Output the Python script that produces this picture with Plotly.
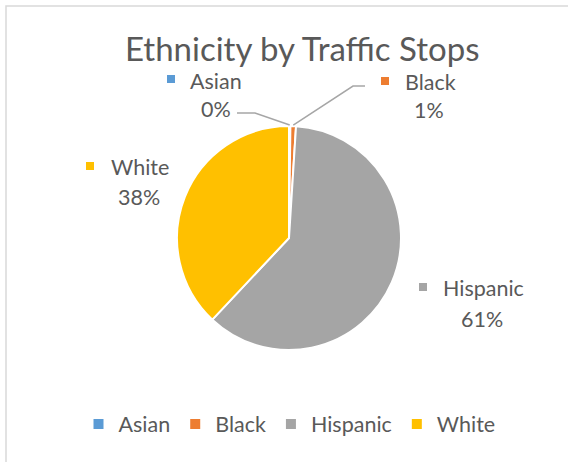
import math
import plotly.graph_objects as go

W, H = 568, 462

categories = ["Asian", "Black", "Hispanic", "White"]
values = [0.2, 0.8, 61.0, 38.0]
colors = ["#5B9BD5", "#ED7D31", "#A5A5A5", "#FFC000"]
title_text = "Ethnicity by Traffic Stops"

TEXT = "#595959"
FONT = "Lato"
LABEL_SIZE = 21.5


def px(x, y):
    """Pixel position (from top-left) to paper coordinates."""
    return x / W, 1 - y / H


# pie geometry in pixels
cx, cy, r = 289, 238, 112
dom_x = [(cx - r) / W, (cx + r) / W]
dom_y = [1 - (cy + r) / H, 1 - (cy - r) / H]

fig = go.Figure(
    go.Pie(
        labels=categories,
        values=values,
        marker=dict(colors=colors, line=dict(color="white", width=2)),
        sort=False,
        direction="clockwise",
        rotation=0,
        textinfo="none",
        hoverinfo="label+percent",
        domain=dict(x=dom_x, y=dom_y),
    )
)

total = sum(values)
pcts = [round(v / total * 100) for v in values]

# label layout: name line centre, percent line centre, swatch centre
label_pos = {
    "Asian": dict(name=(216, 81), pct=(216, 109), sw=(171, 79)),
    "Black": dict(name=(430, 82), pct=(429, 110), sw=(385, 81)),
    "Hispanic": dict(name=(483, 288), pct=(482, 319), sw=(423, 287)),
    "White": dict(name=(140, 167), pct=(139, 197), sw=(90, 166)),
}
# leader lines: elbow and end points next to the label
leaders = {
    "Asian": [(255, 113), (237, 113)],
    "Black": [(353, 86), (365, 86)],
}

annotations = []
shapes = []

tx, ty = px(302, 48)
annotations.append(dict(
    text=title_text, x=tx, y=ty, xref="paper", yref="paper",
    xanchor="center", yanchor="middle", showarrow=False,
    font=dict(family=FONT, size=33, color=TEXT),
))

cum = 0.0
for cat, val, col, pct in zip(categories, values, colors, pcts):
    pos = label_pos[cat]
    nx, ny = px(*pos["name"])
    annotations.append(dict(
        text=cat, x=nx, y=ny, xref="paper", yref="paper",
        xanchor="center", yanchor="middle", showarrow=False,
        font=dict(family=FONT, size=LABEL_SIZE, color=TEXT),
    ))
    qx, qy = px(*pos["pct"])
    annotations.append(dict(
        text=f"{pct}%", x=qx, y=qy, xref="paper", yref="paper",
        xanchor="center", yanchor="middle", showarrow=False,
        font=dict(family=FONT, size=LABEL_SIZE, color=TEXT),
    ))
    sx, sy = pos["sw"]
    x0, y0 = px(sx - 4, sy + 4)
    x1, y1 = px(sx + 4, sy - 4)
    shapes.append(dict(type="rect", xref="paper", yref="paper",
                       x0=x0, y0=y0, x1=x1, y1=y1,
                       fillcolor=col, line=dict(width=0)))

    # leader line from the slice's mid-angle point on the rim
    frac = (cum + val / 2) / total
    cum += val
    if cat in leaders:
        theta = 2 * math.pi * frac
        ex = cx + (r + 1) * math.sin(theta)
        ey = cy - (r + 1) * math.cos(theta)
        pts = [(ex, ey)] + leaders[cat]
        path = "M " + " L ".join(f"{px(a, b)[0]},{px(a, b)[1]}" for a, b in pts)
        shapes.append(dict(type="path", xref="paper", yref="paper", path=path,
                           line=dict(color="#A6A6A6", width=1.5)))

# chart border
bx0, by1 = px(6, 6)
shapes.append(dict(type="rect", xref="paper", yref="paper",
                   x0=bx0, y0=-0.1, x1=1.1, y1=by1,
                   line=dict(color="#D9D9D9", width=1.5), fillcolor="rgba(0,0,0,0)"))

lx, ly = px(289.5, 424)
fig.update_layout(
    width=W, height=H,
    margin=dict(l=0, r=0, t=0, b=0),
    paper_bgcolor="white",
    plot_bgcolor="white",
    showlegend=True,
    legend=dict(
        orientation="h", x=lx, y=ly, xanchor="center", yanchor="middle",
        font=dict(family=FONT, size=LABEL_SIZE, color=TEXT),
        itemsizing="constant", itemwidth=30,
        bgcolor="rgba(0,0,0,0)",
    ),
    annotations=annotations,
    shapes=shapes,
)

fig.write_html("out.html")
